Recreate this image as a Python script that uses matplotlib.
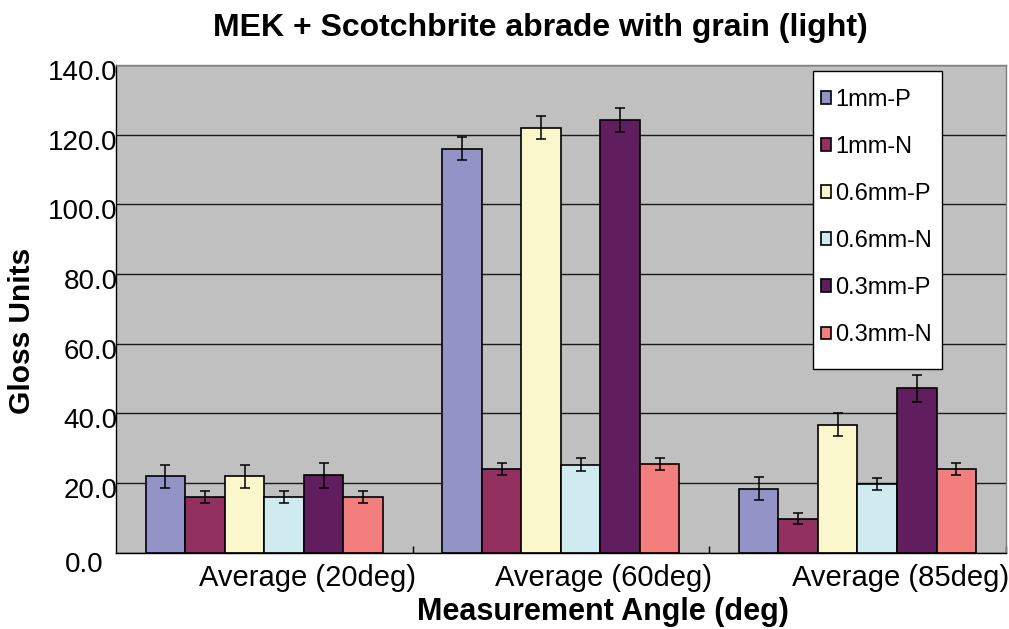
import numpy as np
import matplotlib
matplotlib.use("Agg")
import matplotlib.pyplot as plt
from matplotlib.transforms import ScaledTranslation
from matplotlib.patches import Rectangle

plt.rcParams['font.family'] = ['Liberation Sans', 'DejaVu Sans']

# data
categories = ["Average (20deg)", "Average (60deg)", "Average (85deg)"]
series = ["1mm-P", "1mm-N", "0.6mm-P", "0.6mm-N", "0.3mm-P", "0.3mm-N"]
values = {
    "1mm-P":   [22.0, 116.0, 18.4],
    "1mm-N":   [16.0, 24.0, 9.8],
    "0.6mm-P": [22.0, 122.0, 36.8],
    "0.6mm-N": [16.0, 25.3, 19.8],
    "0.3mm-P": [22.2, 124.3, 47.2],
    "0.3mm-N": [16.1, 25.5, 24.0],
}
errors = {
    "1mm-P":   [3.3, 3.4, 3.35],
    "1mm-N":   [1.7, 1.7, 1.7],
    "0.6mm-P": [3.3, 3.35, 3.35],
    "0.6mm-N": [1.7, 1.75, 1.7],
    "0.3mm-P": [3.5, 3.45, 3.8],
    "0.3mm-N": [1.7, 1.7, 1.75],
}
colors = ["#9393C8", "#923060", "#FAF7CD", "#CFEBEF", "#611E5E", "#F37E7E"]

W, H = 1009, 629
fig = plt.figure(figsize=(W / 100, H / 100), dpi=100)
fig.patch.set_facecolor("white")
ax = fig.add_axes([116 / W, 1 - 552.7 / H, (1005.7 - 116) / W, (552.7 - 65) / H])
ax.set_facecolor("#C0C0C0")

x = np.arange(len(categories))
n = len(series)
bw = 0.8 / n
for i, name in enumerate(series):
    pos = x + (i - (n - 1) / 2) * bw
    ax.bar(pos, values[name], bw, color=colors[i], edgecolor="black", linewidth=1.2,
           label=name, zorder=2)
    ax.errorbar(pos, values[name], yerr=errors[name], fmt="none", ecolor="black",
                elinewidth=1.1, capsize=3.3, capthick=1.1, zorder=3)

ax.set_xlim(-0.5, 2.5)
ax.set_ylim(0, 140)
ax.set_yticks(np.arange(0, 141, 20))
ax.set_yticklabels([f"{v:.1f}" for v in np.arange(0, 141, 20)])
ax.yaxis.grid(True, color="#1a1a1a", linewidth=1)
ax.set_axisbelow(True)

ax.tick_params(axis="y", length=0, labelsize=20, pad=-1)
ax.set_xticks(x)
ax.set_xticklabels(categories)
ax.tick_params(axis="x", which="major", length=0, labelsize=21, pad=8)
ax.set_xticks([0.5, 1.5, 2.5], minor=True)
ax.tick_params(axis="x", which="minor", direction="in", length=5, width=1, color="black")

# excel draws the labels a bit off their ticks
for lab in ax.get_yticklabels():
    lab.set_transform(lab.get_transform() + ScaledTranslation(0, -5 / 100, fig.dpi_scale_trans))
zero = ax.get_yticklabels()[0]
zero.set_transform(zero.get_transform() + ScaledTranslation(-14 / 100, -4 / 100, fig.dpi_scale_trans))
for lab in ax.get_xticklabels():
    lab.set_transform(lab.get_transform() + ScaledTranslation(43 / 100, 0, fig.dpi_scale_trans))

for s in ["left", "bottom"]:
    ax.spines[s].set_color("black")
    ax.spines[s].set_linewidth(1)
for s in ["top", "right"]:
    ax.spines[s].set_color("#808080")
    ax.spines[s].set_linewidth(1)

fig.text(540 / W, 1 - 28 / H, "MEK + Scotchbrite abrade with grain (light)",
         ha="center", va="center", fontsize=23, fontweight="bold")
fig.text(22 / W, 1 - 331 / H, "Gloss Units", rotation=90,
         ha="center", va="center", fontsize=21.5, fontweight="bold")
fig.text(603 / W, 1 - 612 / H, "Measurement Angle (deg)",
         ha="center", va="center", fontsize=22, fontweight="bold")

# legend box drawn separately so the padding matches
box = Rectangle((813.3 / W, 1 - 369 / H), (941.7 - 813.3) / W, (369 - 71) / H,
                transform=fig.transFigure, facecolor="white", edgecolor="black",
                linewidth=1, zorder=4, clip_on=False)
ax.add_patch(box)
leg = ax.legend(loc="upper left", bbox_to_anchor=(820.7 / W, 1 - 89 / H),
                bbox_transform=fig.transFigure, frameon=False, fontsize=17,
                handlelength=0.43, handleheight=0.43, handletextpad=0.18,
                labelspacing=1.06, borderpad=0, borderaxespad=0)
leg.set_zorder(5)

fig.savefig("out.png", dpi=100)
